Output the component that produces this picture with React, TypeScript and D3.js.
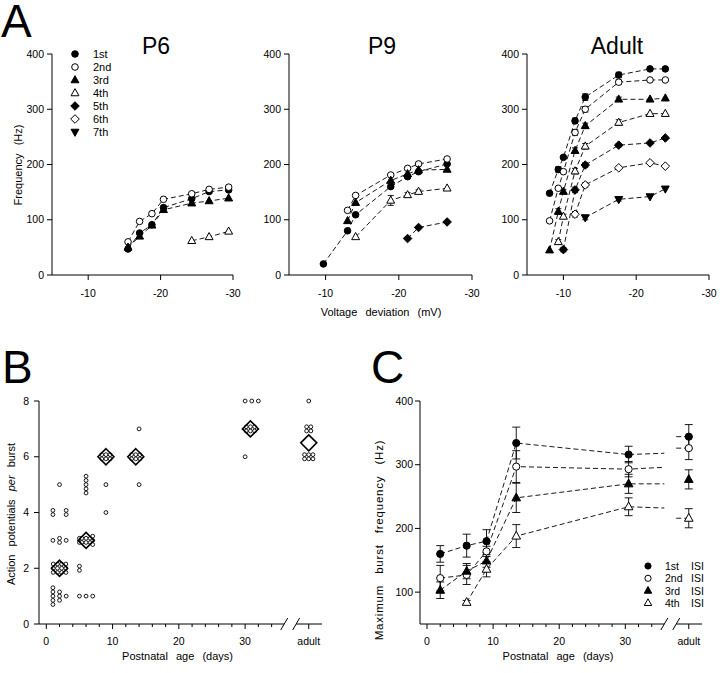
import React from "react";
import * as d3 from "d3";

const FONT = "'Liberation Sans', Arial, Helvetica, sans-serif";

// ---------------- Panel A data ----------------
const legendLabels = ["1st", "2nd", "3rd", "4th", "5th", "6th", "7th"];

const p6Volt = [-15.5, -17.1, -18.8, -20.4, -24.3, -26.7, -29.4];
const p6Hz1st = [47, 76, 91, 122, 138, 151, 154];
const p6Hz2nd = [60, 97, 111, 137, 147, 155, 159];
const p6Hz3rd = [50, 70, 90, 118, 130, 134, 139];
const p6Volt4th = [-24.3, -26.7, -29.4];
const p6Hz4th = [62, 69, 79];

const p9Volt1st = [-9.7, -13.0, -14.1, -18.9, -21.2, -22.7, -26.6];
const p9Hz1st = [20, 80, 109, 160, 178, 187, 201];
const p9Volt = [-13.0, -14.1, -18.9, -21.2, -22.7, -26.6];
const p9Hz2nd = [117, 144, 181, 193, 201, 210];
const p9Hz3rd = [98, 131, 171, 183, 190, 191];
const p9Volt4th = [-14.1, -18.9, -21.2, -22.7, -26.6];
const p9Hz4th = [69, 135, 145, 151, 157];
const p9Err4th = [0, 9, 4, 3, 0];
const p9Volt5th = [-21.2, -22.7, -26.6];
const p9Hz5th = [66, 86, 96];

const adVolt = [-8.1, -9.3, -10.0, -11.6, -13.0, -17.6, -21.9, -24.0];
const adHz1st = [148, 191, 213, 279, 322, 362, 373, 373];
const adErr1st = [0, 5, 0, 5, 6, 5, 0, 0];
const adHz2nd = [98, 157, 187, 258, 300, 349, 353, 353];
const adErr2nd = [0, 0, 0, 5, 5, 4, 0, 0];
const adHz3rd = [45, 115, 151, 225, 270, 318, 318, 320];
const adErr3rd = [0, 5, 4, 5, 5, 4, 0, 0];
const adVolt4th = [-9.3, -10.0, -11.6, -13.0, -17.6, -21.9, -24.0];
const adHz4th = [60, 106, 188, 233, 276, 292, 292];
const adErr4th = [4, 4, 5, 5, 5, 0, 0];
const adVolt5th = [-10.0, -11.6, -13.0, -17.6, -21.9, -24.0];
const adHz5th = [46, 154, 199, 235, 239, 248];
const adErr5th = [4, 5, 4, 3, 0, 0];
const adVolt6th = [-11.6, -13.0, -17.6, -21.9, -24.0];
const adHz6th = [110, 163, 194, 203, 197];
const adErr6th = [5, 4, 0, 0, 0];
const adVolt7th = [-13.0, -17.6, -21.9, -24.0];
const adHz7th = [104, 137, 142, 156];
const adErr7th = [4, 3, 0, 0];

// ---------------- Panel B data ----------------
const bGroupAge: (number | "adult")[] = [
  1, 2, 3, 5, 6, 7,
  2, 5,
  1, 2, 3, 5, 6, 7,
  1, 3, 9,
  2, 6, 9, 14,
  9, 13.5, 30, "adult",
  14, 30.8, "adult",
  30, 31, 32, "adult",
];
const bGroupValue = [
  1, 1, 1, 1, 1, 1,
  2, 2,
  3, 3, 3, 3, 3, 3,
  4, 4, 4,
  5, 5, 5, 5,
  6, 6, 6, 6,
  7, 7, 7,
  8, 8, 8, 8,
];
const bGroupCount = [
  5, 3, 1, 1, 1, 1,
  12, 2,
  1, 2, 1, 2, 6, 3,
  2, 2, 1,
  1, 5, 1, 1,
  6, 6, 1, 6,
  1, 6, 4,
  1, 1, 1, 1,
];
const bMeanAge: (number | "adult")[] = [2, 6, 9, 13.5, 30.8, "adult"];
const bMeanValue = [2, 3, 6, 6, 7, 6.5];

// ---------------- Panel C data ----------------
const cLegend = ["1st", "2nd", "3rd", "4th"];
const cAges = [2, 6, 9, 13.5, 30.5];
const c1st = [160, 173, 180, 334, 316];
const c1stErr = [13, 18, 18, 25, 13];
const c2nd = [122, 127, 164, 297, 293];
const c2ndErr = [20, 15, 8, 25, 12];
const c3rd = [103, 133, 149, 248, 270];
const c3rdErr = [13, 12, 10, 23, 15];
const cAges4th = [6, 9, 13.5, 30.5];
const c4th = [84, 136, 188, 234];
const c4thErr = [3, 12, 18, 14];
const cAdult = [344, 326, 277, 216];
const cAdultErr = [19, 18, 15, 15];
const cBreakEnd = [318, 296, 270, 232];
const cAdultLeadIn = [true, true, false, true];

// ---------------- layout constants ----------------
const ADULT_POS = 39.6;
const BREAK1 = 35.9;
const BREAK2 = 37.7;
const DASH = "5,3";

type Kind = "circleFilled" | "circleOpen" | "triFilled" | "triOpen" | "diaFilled" | "diaOpen" | "triDownFilled";
const KINDS: Kind[] = ["circleFilled", "circleOpen", "triFilled", "triOpen", "diaFilled", "diaOpen", "triDownFilled"];

function Marker({ kind, x, y, r = 3.3 }: { kind: Kind; x: number; y: number; r?: number }) {
  const filled = kind.endsWith("Filled");
  const p = { fill: filled ? "#000" : "#fff", stroke: "#000", strokeWidth: 1 };
  if (kind.startsWith("circle")) return <circle cx={x} cy={y} r={r} {...p} />;
  let d = "";
  const s = r * 1.2;
  if (kind === "triDownFilled") d = `M${x - s},${y - s * 0.7}L${x + s},${y - s * 0.7}L${x},${y + s * 1.1}Z`;
  else if (kind.startsWith("tri")) d = `M${x},${y - s * 1.1}L${x + s},${y + s * 0.7}L${x - s},${y + s * 0.7}Z`;
  else {
    const q = r * 1.3;
    d = `M${x},${y - q}L${x + q},${y}L${x},${y + q}L${x - q},${y}Z`;
  }
  return <path d={d} {...p} />;
}

type SeriesA = { kind: Kind; volts: number[]; hz: number[]; err?: number[] };

function PanelA({ left, right, title, titleX, series, legend }: { left: number; right: number; title: string; titleX: number; series: SeriesA[]; legend?: boolean }) {
  const x = d3.scaleLinear().domain([-5, -30]).range([left, right]);
  const y = d3.scaleLinear().domain([0, 400]).range([275, 54]);
  const line = d3.line<[number, number]>().x((d) => x(d[0])).y((d) => y(d[1]));
  return (
    <g>
      <line x1={left} x2={left} y1={y(0)} y2={y(400)} stroke="#000" />
      <line x1={left} x2={right} y1={y(0)} y2={y(0)} stroke="#000" />
      {y.ticks(4).map((t) => (
        <g key={t}>
          <line x1={left - 5} x2={left} y1={y(t)} y2={y(t)} stroke="#000" />
          <text x={left - 8} y={y(t) + 3.5} fontSize={10.5} textAnchor="end">{t}</text>
        </g>
      ))}
      {[-10, -20, -30].map((t) => (
        <g key={t}>
          <line x1={x(t)} x2={x(t)} y1={y(0)} y2={y(0) + 5} stroke="#000" />
          <text x={x(t)} y={297} fontSize={10.5} textAnchor="middle">{t}</text>
        </g>
      ))}
      <text x={titleX} y={54} fontSize={23} textAnchor="middle">{title}</text>
      {series.map((s, i) => (
        <path key={i} d={line(s.volts.map((v, j) => [v, s.hz[j]]) as [number, number][]) || ""} fill="none" stroke="#000" strokeWidth={0.9} strokeDasharray={DASH} />
      ))}
      {series.map((s, i) =>
        (s.err || []).map((e, j) =>
          e > 0 ? (
            <g key={`e${i}-${j}`} stroke="#000" strokeWidth={0.9}>
              <line x1={x(s.volts[j])} x2={x(s.volts[j])} y1={y(s.hz[j] - e)} y2={y(s.hz[j] + e)} />
              <line x1={x(s.volts[j]) - 3} x2={x(s.volts[j]) + 3} y1={y(s.hz[j] + e)} y2={y(s.hz[j] + e)} />
              <line x1={x(s.volts[j]) - 3} x2={x(s.volts[j]) + 3} y1={y(s.hz[j] - e)} y2={y(s.hz[j] - e)} />
            </g>
          ) : null
        )
      )}
      {series.map((s, i) => s.volts.map((v, j) => <Marker key={`m${i}-${j}`} kind={s.kind} x={x(v)} y={y(s.hz[j])} />))}
      {legend &&
        legendLabels.map((l, i) => (
          <g key={l}>
            <Marker kind={KINDS[i]} x={75} y={54 + i * 13} />
            <text x={93} y={54 + i * 13 + 4} fontSize={11}>{l}</text>
          </g>
        ))}
    </g>
  );
}

function AgeAxis({ x, yBase, left, right }: { x: d3.ScaleLinear<number, number>; yBase: number; left: number; right: number }) {
  const b1 = x(BREAK1);
  const b2 = x(BREAK2);
  const minors = d3.range(0, 35, 2).filter((t) => t % 10 !== 0);
  return (
    <g stroke="#000">
      <line x1={left} x2={b1} y1={yBase} y2={yBase} />
      <line x1={b2} x2={right} y1={yBase} y2={yBase} />
      <line x1={b1 - 3.5} x2={b1 + 3.5} y1={yBase + 6} y2={yBase - 6} />
      <line x1={b2 - 3.5} x2={b2 + 3.5} y1={yBase + 6} y2={yBase - 6} />
      {[0, 10, 20, 30].map((t) => (
        <g key={t}>
          <line x1={x(t)} x2={x(t)} y1={yBase} y2={yBase + 5} />
          <text x={x(t)} y={yBase + 21} fontSize={10.5} textAnchor="middle" stroke="none">{t}</text>
        </g>
      ))}
      {minors.map((t) => (
        <line key={t} x1={x(t)} x2={x(t)} y1={yBase} y2={yBase + 3} />
      ))}
      <line x1={x(ADULT_POS)} x2={x(ADULT_POS)} y1={yBase} y2={yBase + 5} />
      <text x={x(ADULT_POS)} y={yBase + 21} fontSize={10.5} textAnchor="middle" stroke="none">adult</text>
      <text x={(left + right) / 2 - 3} y={yBase + 36} fontSize={11} textAnchor="middle" stroke="none" wordSpacing={5}>Postnatal age (days)</text>
    </g>
  );
}

function PanelB() {
  const left = 39, right = 322;
  const x = d3.scaleLinear().domain([-1.1, 41.6]).range([left, right]);
  const y = d3.scaleLinear().domain([0, 8]).range([624, 401]);
  const pos = (a: number | "adult") => (a === "adult" ? x(ADULT_POS) : x(a));
  const sp = 4.2;
  const circles: { cx: number; cy: number }[] = [];
  bGroupAge.forEach((a, i) => {
    const n = bGroupCount[i];
    const cols = n <= 5 && a !== "adult" ? 1 : Math.ceil(Math.sqrt(n));
    const rows = Math.ceil(n / cols);
    for (let k = 0; k < n; k++) {
      const r = Math.floor(k / cols);
      const inRow = r === rows - 1 ? n - r * cols : cols;
      const c = k % cols;
      circles.push({
        cx: pos(a) + (c - (inRow - 1) / 2) * sp,
        cy: y(bGroupValue[i]) + (r - (rows - 1) / 2) * sp,
      });
    }
  });
  return (
    <g>
      <text x={2} y={383} fontSize={46}>B</text>
      <line x1={left} x2={left} y1={y(0)} y2={y(8)} stroke="#000" />
      {[0, 2, 4, 6, 8].map((t) => (
        <g key={t}>
          <line x1={left - 5} x2={left} y1={y(t)} y2={y(t)} stroke="#000" />
          <text x={left - 10} y={y(t) + 3.5} fontSize={10.5} textAnchor="end">{t}</text>
        </g>
      ))}
      <AgeAxis x={x} yBase={624} left={left} right={right} />
      <text transform={`translate(15,514) rotate(-90)`} fontSize={11} textAnchor="middle" wordSpacing={5}>
        Action potentials <tspan fontStyle="italic">per</tspan> burst
      </text>
      {circles.map((c, i) => (
        <circle key={i} cx={c.cx} cy={c.cy} r={1.9} fill="#fff" stroke="#000" strokeWidth={0.9} />
      ))}
      {bMeanAge.map((a, i) => {
        const cx = pos(a), cy = y(bMeanValue[i]), q = 8;
        return <path key={i} d={`M${cx},${cy - q}L${cx + q},${cy}L${cx},${cy + q}L${cx - q},${cy}Z`} fill="none" stroke="#000" strokeWidth={1.6} />;
      })}
    </g>
  );
}

function PanelC() {
  const left = 420, right = 702;
  const x = d3.scaleLinear().domain([-1.06, 41.6]).range([left, right]);
  const y = d3.scaleLinear().domain([50, 400]).range([624, 401]);
  const line = d3.line<[number, number]>().x((d) => x(d[0])).y((d) => y(d[1]));
  const series = [
    { kind: "circleFilled" as Kind, ages: cAges, v: c1st, e: c1stErr },
    { kind: "circleOpen" as Kind, ages: cAges, v: c2nd, e: c2ndErr },
    { kind: "triFilled" as Kind, ages: cAges, v: c3rd, e: c3rdErr },
    { kind: "triOpen" as Kind, ages: cAges4th, v: c4th, e: c4thErr },
  ];
  const eb = (cx: number, v: number, e: number, key: string) => (
    <g key={key} stroke="#000" strokeWidth={0.9}>
      <line x1={cx} x2={cx} y1={y(v - e)} y2={y(v + e)} />
      <line x1={cx - 4} x2={cx + 4} y1={y(v + e)} y2={y(v + e)} />
      <line x1={cx - 4} x2={cx + 4} y1={y(v - e)} y2={y(v - e)} />
    </g>
  );
  return (
    <g>
      <text x={371} y={383} fontSize={46}>C</text>
      <line x1={left} x2={left} y1={y(50)} y2={y(400)} stroke="#000" />
      {[100, 200, 300, 400].map((t) => (
        <g key={t}>
          <line x1={left - 5} x2={left} y1={y(t)} y2={y(t)} stroke="#000" />
          <text x={left - 7} y={y(t) + 3.5} fontSize={10.5} textAnchor="end">{t}</text>
        </g>
      ))}
      <AgeAxis x={x} yBase={624} left={left} right={right} />
      <text transform={`translate(383,540) rotate(-90)`} fontSize={11.5} textAnchor="middle" wordSpacing={7} letterSpacing={0.8}>
        Maximum burst frequency (Hz)
      </text>
      {series.map((s, i) => {
        const pts = s.ages.map((a, j) => [a, s.v[j]] as [number, number]);
        pts.push([BREAK1, cBreakEnd[i]]);
        return <path key={i} d={line(pts) || ""} fill="none" stroke="#000" strokeWidth={0.9} strokeDasharray={DASH} />;
      })}
      {series.map((s, i) =>
        cAdultLeadIn[i] ? (
          <path key={`l${i}`} d={line([[BREAK2, cAdult[i]], [ADULT_POS, cAdult[i]]]) || ""} fill="none" stroke="#000" strokeWidth={0.9} strokeDasharray={DASH} />
        ) : null
      )}
      {series.map((s, i) => s.ages.map((a, j) => eb(x(a), s.v[j], s.e[j], `e${i}-${j}`)))}
      {series.map((s, i) => eb(x(ADULT_POS), cAdult[i], cAdultErr[i], `ea${i}`))}
      {series.map((s, i) => s.ages.map((a, j) => <Marker key={`m${i}-${j}`} kind={s.kind} x={x(a)} y={y(s.v[j])} r={3.6} />))}
      {series.map((s, i) => <Marker key={`ma${i}`} kind={s.kind} x={x(ADULT_POS)} y={y(cAdult[i])} r={3.6} />)}
      {cLegend.map((l, i) => (
        <g key={l}>
          <Marker kind={series[i].kind} x={648} y={566 + i * 12.3} r={3.1} />
          <text x={665} y={566 + i * 12.3 + 4} fontSize={10.5}>{l}</text>
          <text x={691} y={566 + i * 12.3 + 4} fontSize={10.5}>ISI</text>
        </g>
      ))}
    </g>
  );
}

export default function App() {
  const p6: SeriesA[] = [
    { kind: "circleFilled", volts: p6Volt, hz: p6Hz1st },
    { kind: "circleOpen", volts: p6Volt, hz: p6Hz2nd },
    { kind: "triFilled", volts: p6Volt, hz: p6Hz3rd },
    { kind: "triOpen", volts: p6Volt4th, hz: p6Hz4th },
  ];
  const p9: SeriesA[] = [
    { kind: "circleFilled", volts: p9Volt1st, hz: p9Hz1st },
    { kind: "circleOpen", volts: p9Volt, hz: p9Hz2nd },
    { kind: "triFilled", volts: p9Volt, hz: p9Hz3rd },
    { kind: "triOpen", volts: p9Volt4th, hz: p9Hz4th, err: p9Err4th },
    { kind: "diaFilled", volts: p9Volt5th, hz: p9Hz5th },
  ];
  const ad: SeriesA[] = [
    { kind: "circleFilled", volts: adVolt, hz: adHz1st, err: adErr1st },
    { kind: "circleOpen", volts: adVolt, hz: adHz2nd, err: adErr2nd },
    { kind: "triFilled", volts: adVolt, hz: adHz3rd, err: adErr3rd },
    { kind: "triOpen", volts: adVolt4th, hz: adHz4th, err: adErr4th },
    { kind: "diaFilled", volts: adVolt5th, hz: adHz5th, err: adErr5th },
    { kind: "diaOpen", volts: adVolt6th, hz: adHz6th, err: adErr6th },
    { kind: "triDownFilled", volts: adVolt7th, hz: adHz7th, err: adErr7th },
  ];
  return (
    <svg width={720} height={673} style={{ position: "absolute", left: 0, top: 0, background: "#fff" }} fontFamily={FONT}>
      <rect width={720} height={673} fill="#fff" />
      <text x={1} y={37} fontSize={46}>A</text>
      <text transform="translate(22,165) rotate(-90)" fontSize={11} textAnchor="middle" wordSpacing={5}>Frequency (Hz)</text>
      <PanelA left={52} right={233} title="P6" titleX={156} series={p6} legend />
      <PanelA left={289} right={472} title="P9" titleX={382} series={p9} />
      <PanelA left={527} right={709} title="Adult" titleX={617} series={ad} />
      <text x={381} y={316} fontSize={11} textAnchor="middle" wordSpacing={5}>Voltage deviation (mV)</text>
      <PanelB />
      <PanelC />
    </svg>
  );
}
